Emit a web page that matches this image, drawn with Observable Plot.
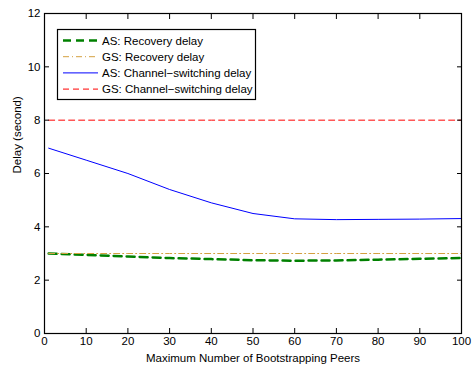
<!DOCTYPE html>
<html>
<head>
<meta charset="utf-8">
<script src="https://cdn.jsdelivr.net/npm/d3@7"></script>
<script src="https://cdn.jsdelivr.net/npm/@observablehq/plot@0.6"></script>
<style>
  html, body { margin: 0; padding: 0; background: #fff; }
  #chart { width: 472px; height: 366px; }
</style>
</head>
<body>
<div id="chart"></div>
<script>
// ---- Data ----
const peers = [1, 10, 20, 30, 40, 50, 60, 70, 80, 90, 100];
const asRecovery = [3.0, 2.95, 2.89, 2.83, 2.79, 2.75, 2.73, 2.74, 2.77, 2.8, 2.83];
const gsRecovery = [3.0, 3.0, 3.0, 3.0, 3.0, 3.0, 3.0, 3.0, 3.0, 3.0, 3.0];
const asSwitching = [6.95, 6.5, 6.0, 5.4, 4.9, 4.5, 4.3, 4.27, 4.28, 4.29, 4.31];
const gsSwitching = [8, 8, 8, 8, 8, 8, 8, 8, 8, 8, 8];

const seriesNames = ["AS: Recovery delay", "GS: Recovery delay", "AS: Channel\u2212switching delay", "GS: Channel\u2212switching delay"];
const seriesValues = [asRecovery, gsRecovery, asSwitching, gsSwitching];
const seriesColors = ["#008000", "#d4a040", "#0000ff", "#ff0000"];
const seriesDash = ["8,5", "6,3,1,3", null, "6,4"];
const seriesWidth = [2.5, 1, 1, 1];

const xTicks = [0, 10, 20, 30, 40, 50, 60, 70, 80, 90, 100];
const yTicks = [0, 2, 4, 6, 8, 10, 12];
const xLabel = "Maximum Number of Bootstrapping Peers";
const yLabel = "Delay (second)";

const rows = seriesNames.map((name, i) => peers.map((p, j) => ({series: name, x: p, y: seriesValues[i][j]})));

const font = "'Liberation Sans', Arial, Helvetica, sans-serif";
const fs = 11.5;
const blank = () => "";

const lineMarks = rows.map((data, i) => Plot.line(data, {
  x: "x", y: "y",
  stroke: seriesColors[i],
  strokeWidth: seriesWidth[i],
  strokeDasharray: seriesDash[i],
  curve: "linear"
}));

const chart = Plot.plot({
  width: 472,
  height: 366,
  marginLeft: 44,
  marginRight: 11,
  marginTop: 13,
  marginBottom: 33,
  style: {fontFamily: font, fontSize: fs + "px", color: "#000", background: "#fff"},
  x: {domain: [0, 100]},
  y: {domain: [0, 12]},
  marks: [
    ...lineMarks,
    Plot.axisX(xTicks, {anchor: "bottom", tickSize: 0, tickPadding: 3, label: null, fontSize: fs}),
    Plot.axisX(xTicks, {anchor: "bottom", tickSize: -5, tickFormat: blank, label: null}),
    Plot.axisX(xTicks, {anchor: "top", tickSize: -5, tickFormat: blank, label: null}),
    Plot.axisY(yTicks, {anchor: "left", tickSize: 0, tickPadding: 4, label: null, fontSize: fs}),
    Plot.axisY(yTicks, {anchor: "left", tickSize: -5, tickFormat: blank, label: null}),
    Plot.axisY(yTicks, {anchor: "right", tickSize: -5, tickFormat: blank, label: null}),
    Plot.frame({stroke: "#000", strokeWidth: 1.2}),
    Plot.text([xLabel], {frameAnchor: "bottom", dy: 25, fontSize: fs, lineAnchor: "middle"}),
    Plot.text([yLabel], {frameAnchor: "left", dx: -27, rotate: -90, fontSize: fs, lineAnchor: "middle"})
  ]
});

document.getElementById("chart").appendChild(chart);

// ---- Legend inside the plot area (upper left) ----
const svg = d3.select(chart);
const lg = svg.append("g").attr("font-family", font).attr("font-size", fs).attr("text-anchor", "start");
lg.append("rect").attr("x", 57.5).attr("y", 29.5).attr("width", 198).attr("height", 70)
  .attr("fill", "#fff").attr("stroke", "#000").attr("stroke-width", 1.2);
seriesNames.forEach((name, i) => {
  const yy = 40.5 + i * 16.2;
  lg.append("line").attr("x1", 63).attr("x2", 98).attr("y1", yy).attr("y2", yy)
    .attr("stroke", seriesColors[i]).attr("stroke-width", seriesWidth[i])
    .attr("stroke-dasharray", seriesDash[i]);
  lg.append("text").attr("x", 102).attr("y", yy).attr("dy", "0.35em")
    .attr("text-anchor", "start").attr("fill", "#000").text(name);
});
</script>
</body>
</html>
